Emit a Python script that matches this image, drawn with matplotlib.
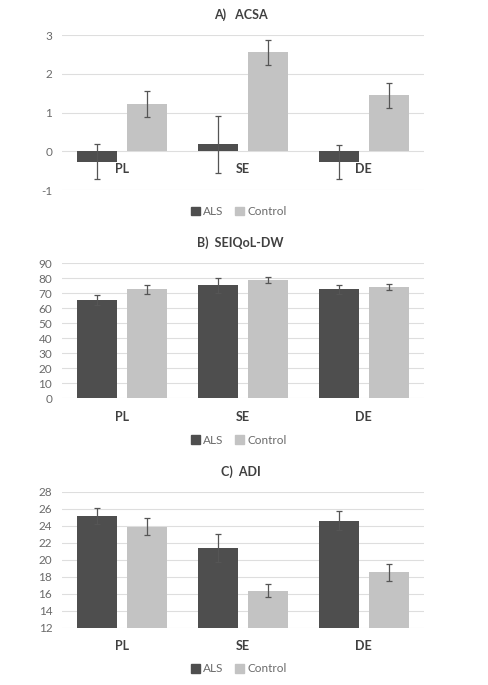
import matplotlib
matplotlib.use("Agg")
import matplotlib.pyplot as plt
import numpy as np
from matplotlib.patches import Patch
from matplotlib.transforms import blended_transform_factory

plt.rcParams['font.family'] = ['Lato', 'DejaVu Sans']

categories = ["PL", "SE", "DE"]
series = ["ALS", "Control"]

acsa_als = [-0.26, 0.18, -0.28]
acsa_als_err = [0.46, 0.74, 0.44]
acsa_ctrl = [1.23, 2.56, 1.45]
acsa_ctrl_err = [0.33, 0.32, 0.32]

seiqol_als = [65.7, 75.3, 72.6]
seiqol_als_err = [3.5, 5.0, 2.8]
seiqol_ctrl = [72.6, 78.9, 74.2]
seiqol_ctrl_err = [3.0, 2.2, 2.2]

adi_als = [25.1, 21.35, 24.6]
adi_als_err = [0.95, 1.65, 1.1]
adi_ctrl = [23.9, 16.35, 18.5]
adi_ctrl_err = [0.95, 0.75, 0.95]

titles = ["A)   ACSA", "B)  SEIQoL-DW", "C)  ADI"]

COL_ALS = "#4e4e4e"
COL_CTRL = "#c3c3c3"
ERR_COL = "#555555"
GRID_COL = "#dedede"
TICK_COL = "#6a6a6a"
TXT_COL = "#404040"

W, H = 488, 685
fig = plt.figure(figsize=(W / 100, H / 100), dpi=100)

x0, x1 = 62 / W, 424 / W

panels = [
    dict(top=35, bottom=190.3, ylim=(-1, 3), ticks=np.arange(-1, 3.1, 1),
         als=acsa_als, als_err=acsa_als_err, ctrl=acsa_ctrl, ctrl_err=acsa_ctrl_err,
         title_y=15, cat_y=169, leg_y=212),
    dict(top=263.3, bottom=398.3, ylim=(0, 90), ticks=np.arange(0, 91, 10),
         als=seiqol_als, als_err=seiqol_als_err, ctrl=seiqol_ctrl, ctrl_err=seiqol_ctrl_err,
         title_y=243, cat_y=416.7, leg_y=440),
    dict(top=491.7, bottom=627.7, ylim=(12, 28), ticks=np.arange(12, 28.1, 2),
         als=adi_als, als_err=adi_als_err, ctrl=adi_ctrl, ctrl_err=adi_ctrl_err,
         title_y=471.7, cat_y=645.7, leg_y=669),
]

xpos = np.arange(len(categories))
bw = 0.33
off = 0.207

for i, p in enumerate(panels):
    ax = fig.add_axes([x0, 1 - p['bottom'] / H, x1 - x0, (p['bottom'] - p['top']) / H])
    base = p['ylim'][0] if p['ylim'][0] > 0 else 0
    als = np.array(p['als']); ctrl = np.array(p['ctrl'])
    ax.bar(xpos - off, als - base, bw, bottom=base, color=COL_ALS, zorder=3)
    ax.bar(xpos + off, ctrl - base, bw, bottom=base, color=COL_CTRL, zorder=3)
    ax.errorbar(xpos - off, als, yerr=p['als_err'], fmt='none', ecolor=ERR_COL,
                elinewidth=0.9, capsize=2.5, capthick=0.9, zorder=4)
    ax.errorbar(xpos + off, ctrl, yerr=p['ctrl_err'], fmt='none', ecolor=ERR_COL,
                elinewidth=0.9, capsize=2.5, capthick=0.9, zorder=4)
    ax.set_xlim(-0.5, len(categories) - 0.5)
    ax.set_ylim(*p['ylim'])
    ax.set_yticks(p['ticks'])
    ax.set_yticklabels([f"{int(t)}" for t in p['ticks']])
    ax.tick_params(axis='y', length=0, labelsize=8.5, colors=TICK_COL, pad=7)
    ax.set_xticks([])
    for s in ax.spines.values():
        s.set_visible(False)
    ax.grid(axis='y', color=GRID_COL, linewidth=0.8, zorder=0)
    ax.set_axisbelow(True)

    tr = blended_transform_factory(ax.transData, fig.transFigure)
    for xi, c in zip(xpos, categories):
        ax.text(xi, 1 - p['cat_y'] / H, c, transform=tr, ha='center', va='center',
                fontsize=9, fontweight='bold', color=TXT_COL)

    fig.text(0.5 * (x0 + x1) - 0.005, 1 - p['title_y'] / H, titles[i], ha='center', va='center',
             fontsize=9, fontweight='bold', color=TXT_COL)

    handles = [Patch(color=COL_ALS, label=series[0]), Patch(color=COL_CTRL, label=series[1])]
    fig.legend(handles=handles, loc='center', bbox_to_anchor=(239 / W, 1 - p['leg_y'] / H),
               ncol=2, frameon=False, fontsize=8.5, handlelength=0.7, handleheight=0.7,
               handletextpad=0.3, columnspacing=1.0, labelcolor=TICK_COL)

fig.savefig("out.png", dpi=100, facecolor="white")
